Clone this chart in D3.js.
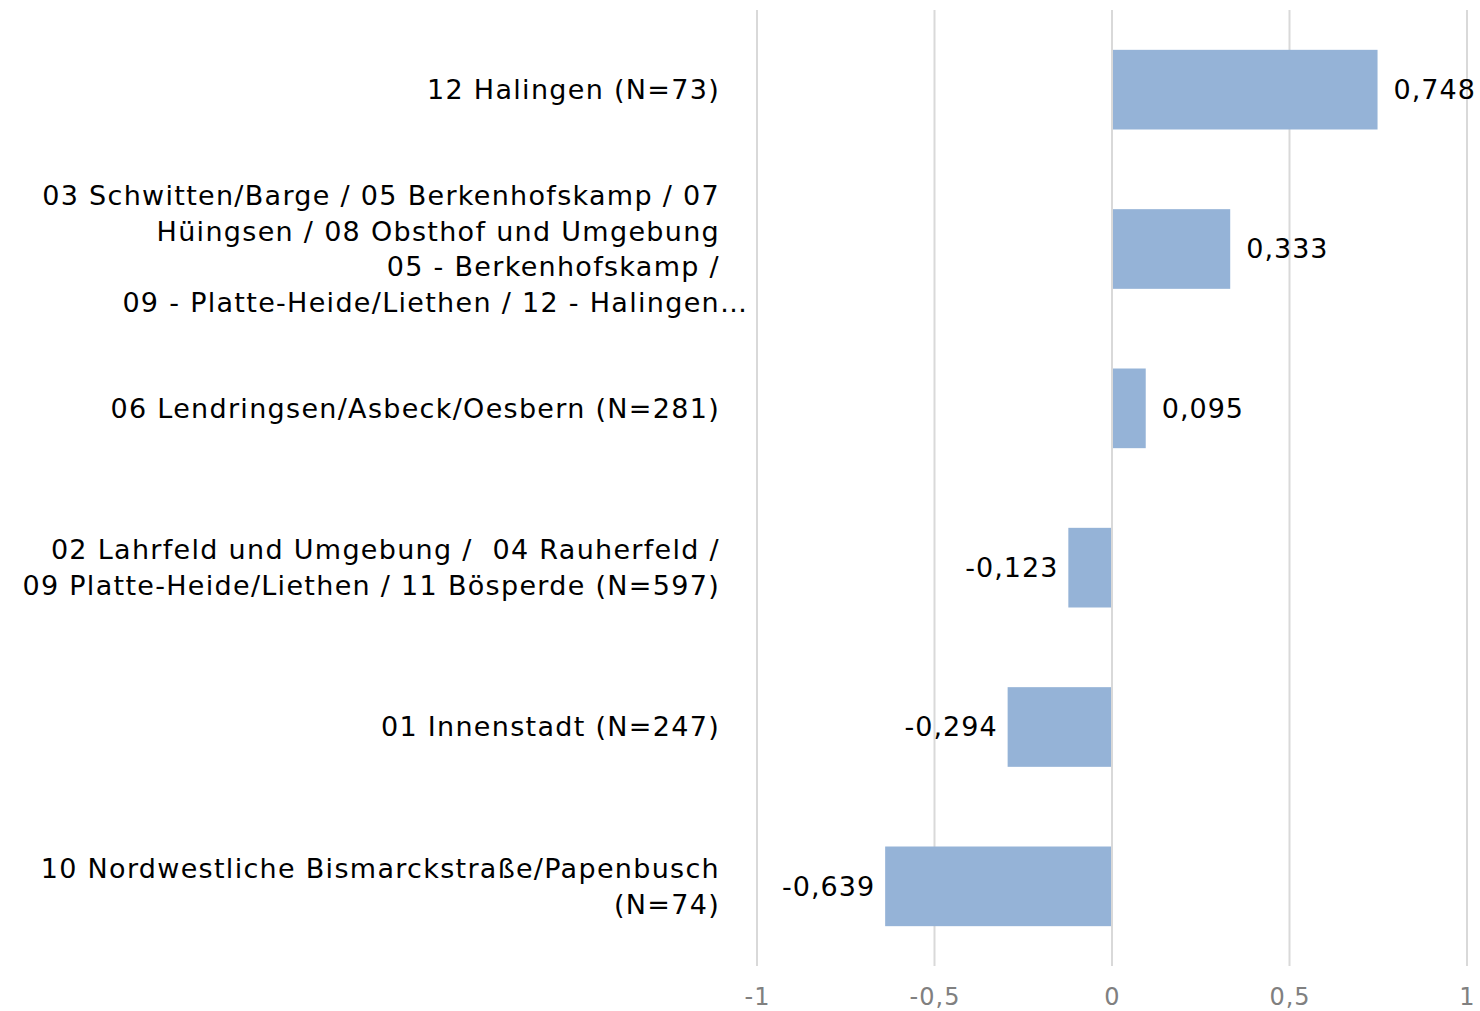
<!DOCTYPE html>
<head>
    <meta charset="utf-8">
    <script src="https://d3js.org/d3.v7.min.js"></script>
    <style type="text/css">
        body { margin: 0; background: #fff; }
        #svg { display: block; }
        text { font-family: "DejaVu Sans", Verdana, sans-serif; }
        .cat { font-size: 27px; letter-spacing: 1.3px; fill: #000; white-space: pre; }
        .val { font-size: 27px; letter-spacing: 1px; fill: #000; }
        .tick text { font-size: 24px; letter-spacing: 1px; fill: #808080; }
    </style>
</head>
<body>
    <div id="chart"></div>
</body>
</html>

<script type="text/javascript">
	// Data (top to bottom)
	var categories = [
		["12 Halingen (N=73)"],
		["03 Schwitten/Barge / 05 Berkenhofskamp / 07", "Hüingsen / 08 Obsthof und Umgebung", "05 - Berkenhofskamp /", "09 - Platte-Heide/Liethen / 12 - Halingen…"],
		["06 Lendringsen/Asbeck/Oesbern (N=281)"],
		["02 Lahrfeld und Umgebung /  04 Rauherfeld /", "09 Platte-Heide/Liethen / 11 Bösperde (N=597)"],
		["01 Innenstadt (N=247)"],
		["10 Nordwestliche Bismarckstraße/Papenbusch", "(N=74)"]
	];
	var values = [0.748, 0.333, 0.095, -0.123, -0.294, -0.639];
	var tickValues = [-1, -0.5, 0, 0.5, 1];

	var width = 1480, height = 1011;
	var plotLeft = 757, plotRight = 1467, plotTop = 10, plotBottom = 966;
	var labelX = 720;

	var svg = d3.select('#chart').append("svg")
		.attr("id", "svg")
		.attr("width", width)
		.attr("height", height);

	var x = d3.scaleLinear().domain([-1, 1]).range([plotLeft, plotRight]);
	var y = d3.scaleBand().domain(d3.range(values.length)).range([plotTop, plotBottom]).paddingInner(0.5).paddingOuter(0.25);

	var fmt = function(v) { return d3.format(".3f")(v).replace(".", ",").replace("−", "-"); };

	// Gridlines
	svg.append("g").selectAll("line")
		.data(tickValues)
		.enter().append("line")
		.attr("x1", function(d) { return x(d); })
		.attr("x2", function(d) { return x(d); })
		.attr("y1", plotTop)
		.attr("y2", plotBottom)
		.attr("stroke", "#d9d9d9")
		.attr("stroke-width", 2);

	// Axis
	var axis = svg.append("g")
		.attr("transform", "translate(0," + plotBottom + ")")
		.call(d3.axisBottom(x).tickValues(tickValues).tickSize(0).tickPadding(22)
			.tickFormat(function(d) { return String(d).replace(".", ",").replace("−", "-"); }));
	axis.select(".domain").remove();
	axis.attr("font-family", null).attr("font-size", null);

	// Bars
	svg.append("g").selectAll("rect")
		.data(values)
		.enter().append("rect")
		.attr("x", function(d) { return d >= 0 ? x(0) + 1 : x(d); })
		.attr("y", function(d, i) { return y(i); })
		.attr("width", function(d) { return Math.abs(x(d) - x(0)) - 1; })
		.attr("height", y.bandwidth())
		.attr("fill", "#95b3d7");

	// Value labels
	svg.append("g").selectAll("text")
		.data(values)
		.enter().append("text")
		.attr("class", "val")
		.attr("x", function(d) { return d >= 0 ? x(d) + 16 : x(d) - 10; })
		.attr("y", function(d, i) { return y(i) + y.bandwidth() / 2; })
		.attr("dy", "0.35em")
		.attr("text-anchor", function(d) { return d >= 0 ? "start" : "end"; })
		.text(fmt);

	// Category labels
	var lineH = 35.7;
	var cats = svg.append("g");
	categories.forEach(function(lines, i) {
		var cy = y(i) + y.bandwidth() / 2;
		lines.forEach(function(line, j) {
			var ly = cy + (j - (lines.length - 1) / 2) * lineH;
			var ell = line.slice(-1) === "…";
			cats.append("text")
				.attr("class", "cat")
				.attr("x", labelX)
				.attr("y", ly)
				.attr("dy", "0.35em")
				.attr("text-anchor", "end")
				.text(ell ? line.slice(0, -1) : line);
			if (ell) {
				cats.append("text")
					.attr("class", "cat")
					.attr("x", labelX)
					.attr("y", ly)
					.attr("dy", "0.35em")
					.text("…");
			}
		});
	});
</script>
